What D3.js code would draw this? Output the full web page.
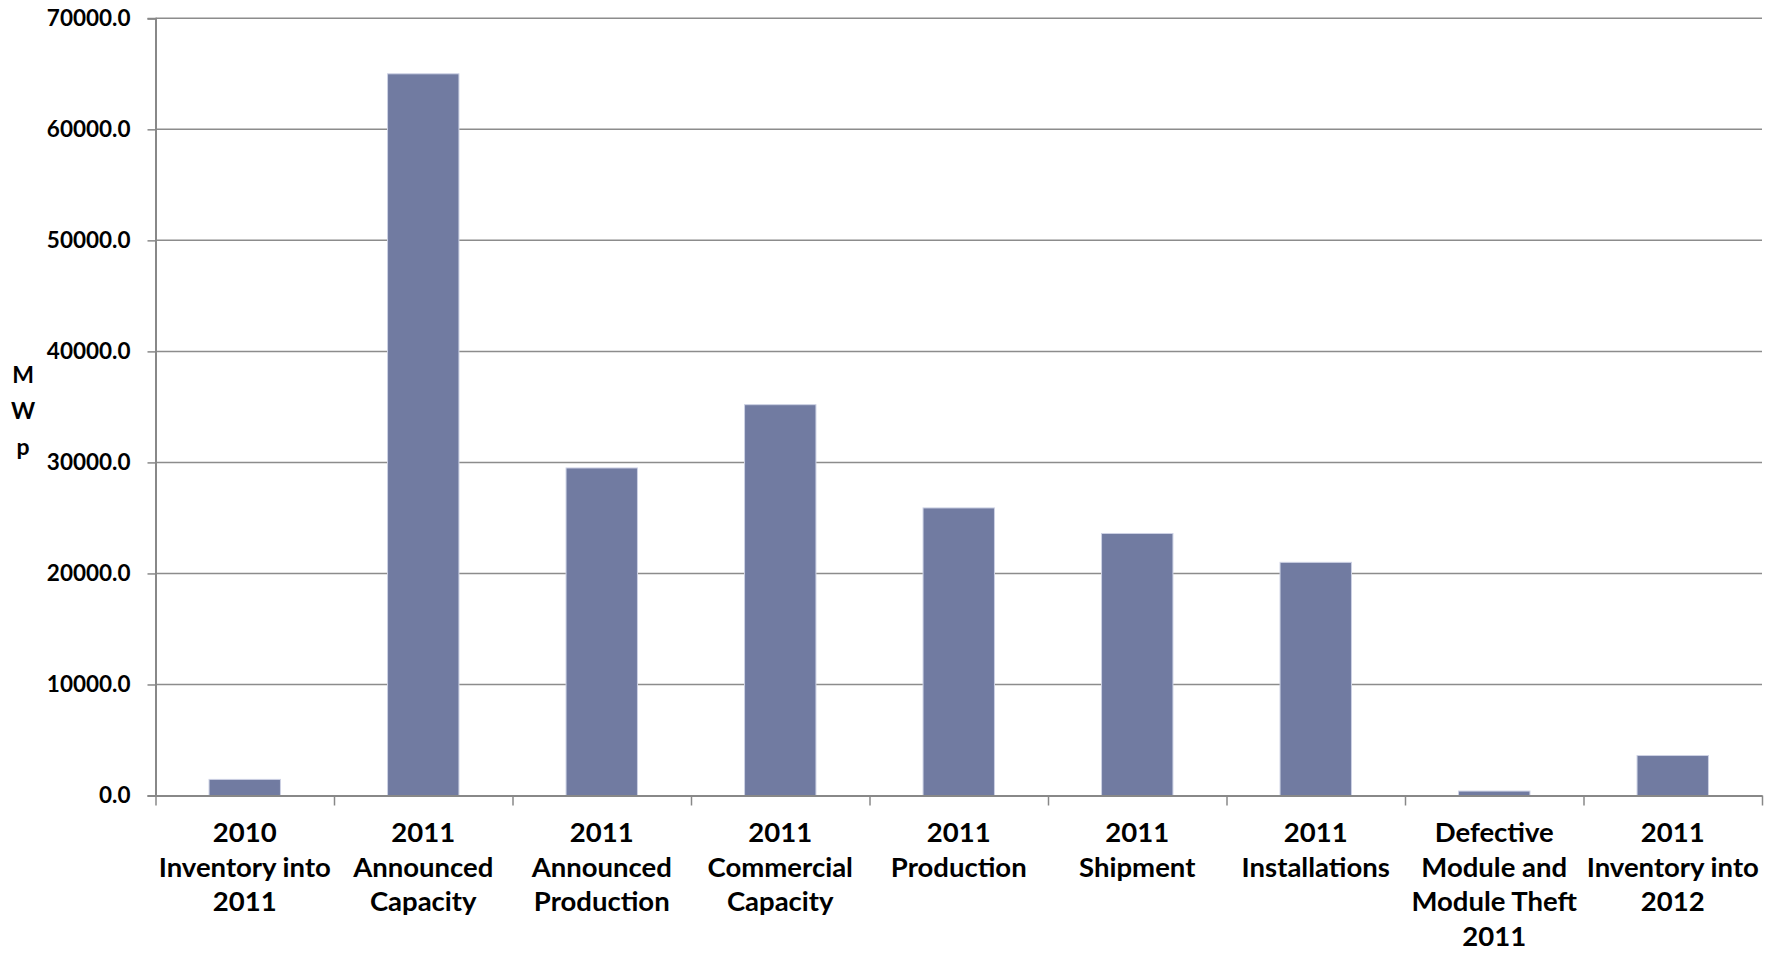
<!DOCTYPE html>
<html>
<head>
<meta charset="utf-8">
<script src="https://cdn.jsdelivr.net/npm/d3@7"></script>
<style>
  html, body { margin: 0; padding: 0; background: #ffffff; }
  svg { display: block; }
  text { font-family: Lato, "Open Sans", sans-serif; font-weight: 700; fill: #000; }
</style>
</head>
<body>
<svg id="chart" width="1773" height="953"></svg>
<script>
// Category labels (one entry per bar, "\n" marks a line break)
const categories = [
  "2010\nInventory into\n2011",
  "2011\nAnnounced\nCapacity",
  "2011\nAnnounced\nProduction",
  "2011\nCommercial\nCapacity",
  "2011\nProduction",
  "2011\nShipment",
  "2011\nInstallations",
  "Defective\nModule and\nModule Theft\n2011",
  "2011\nInventory into\n2012"
];

// Module volumes in MWp
const values = [1450, 65000, 29500, 35200, 25900, 23600, 21000, 400, 3600];

// Value axis ticks
const yTicks = [0, 10000, 20000, 30000, 40000, 50000, 60000, 70000];

// Axis title, drawn one letter per line
const yTitle = ["M", "W", "p"];

const svg = d3.select("#chart");

const plotLeft = 155.5, plotRight = 1762, plotTop = 18.3, plotBottom = 795.5;

const x = d3.scaleBand()
  .domain(d3.range(categories.length))
  .range([plotLeft, plotRight])
  .paddingInner(0.6)
  .paddingOuter(0.3);

// Category boundaries for the tick marks between bars
const xEdge = d3.scaleLinear()
  .domain([0, categories.length])
  .range([plotLeft, plotRight]);

const y = d3.scaleLinear()
  .domain([0, 70000])
  .range([plotBottom, plotTop]);

// Horizontal gridlines
svg.append("g")
  .selectAll("line")
  .data(yTicks.filter(d => d > 0))
  .join("line")
  .attr("x1", plotLeft)
  .attr("x2", plotRight)
  .attr("y1", d => y(d))
  .attr("y2", d => y(d))
  .attr("stroke", "#8c8c8c")
  .attr("stroke-width", 1.5);

// Bars
svg.append("g")
  .selectAll("rect")
  .data(values)
  .join("rect")
  .attr("x", (d, i) => x(i))
  .attr("width", x.bandwidth())
  .attr("y", d => y(d))
  .attr("height", d => y(0) - y(d))
  .attr("fill", "#717ba1")
  .attr("stroke", "#cdd1e4")
  .attr("stroke-width", 1);

// Value axis
const yAxis = svg.append("g")
  .attr("transform", `translate(${plotLeft},0)`)
  .call(d3.axisLeft(y)
    .tickValues(yTicks)
    .tickFormat(d3.format(".1f"))
    .tickSize(8)
    .tickPadding(17));
yAxis.select(".domain").attr("stroke", "#888888").attr("stroke-width", 2);
yAxis.selectAll(".tick line").attr("stroke", "#888888").attr("stroke-width", 1.5);
yAxis.selectAll(".tick text")
  .attr("font-family", "Lato, 'Open Sans', sans-serif")
  .attr("font-weight", 700)
  .attr("font-size", 22.5)
  .attr("fill", "#000");

// Category axis line and separator ticks
const xAxis = svg.append("g")
  .attr("transform", `translate(0,${plotBottom})`)
  .call(d3.axisBottom(xEdge)
    .tickValues(d3.range(categories.length + 1))
    .tickFormat("")
    .tickSize(10)
    .tickSizeOuter(0));
xAxis.select(".domain").attr("stroke", "#888888").attr("stroke-width", 2);
xAxis.selectAll(".tick line").attr("stroke", "#888888").attr("stroke-width", 1.5);

// Category labels
const labels = svg.append("g")
  .selectAll("text")
  .data(categories)
  .join("text")
  .attr("text-anchor", "middle")
  .attr("font-size", 27.5)
  .attr("x", (d, i) => x(i) + x.bandwidth() / 2)
  .attr("y", 842);
labels.selectAll("tspan")
  .data(d => d.split("\n"))
  .join("tspan")
  .attr("x", function () { return this.parentNode.getAttribute("x"); })
  .attr("dy", (d, i) => i === 0 ? 0 : 34.7)
  .text(d => d);

// Axis title
svg.append("g")
  .selectAll("text")
  .data(yTitle)
  .join("text")
  .attr("text-anchor", "middle")
  .attr("font-size", 23)
  .attr("x", 23)
  .attr("y", (d, i) => 383 + i * 36)
  .text(d => d);
</script>
</body>
</html>
